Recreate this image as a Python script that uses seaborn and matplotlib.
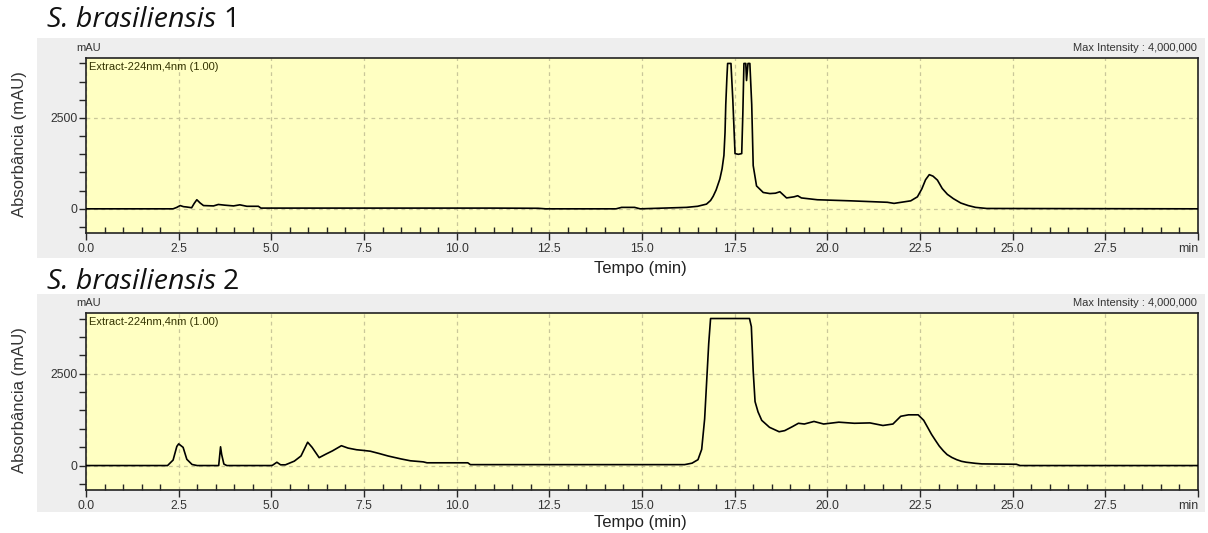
import matplotlib
matplotlib.use("Agg")
import matplotlib.pyplot as plt
from matplotlib.patches import Rectangle
from matplotlib.ticker import MultipleLocator, FixedLocator
import seaborn as sns
import pandas as pd

# ---------------- data ----------------
titles = ["S. brasiliensis", "S. brasiliensis"]
title_nums = ["1", "2"]

t1 = [0, 2.35, 2.45, 2.54, 2.63, 2.72, 2.85, 2.92, 2.99, 3.08,
      3.17, 3.44, 3.57, 3.75, 3.98, 4.15, 4.34, 4.65, 4.72, 5.0,
      7.0, 9.0, 11.0, 12.2, 12.4, 14.3, 14.45, 14.8, 14.95, 16.2,
      16.5, 16.74, 16.85, 16.92, 17.0, 17.1, 17.16, 17.21, 17.24, 17.26,
      17.29, 17.31, 17.4, 17.45, 17.51, 17.6, 17.69, 17.72, 17.75, 17.8,
      17.82, 17.86, 17.91, 17.96, 18.0, 18.09, 18.27, 18.45, 18.6, 18.72,
      18.9, 19.1, 19.2, 19.3, 19.73, 20.63, 21.62, 21.8, 22.25, 22.43,
      22.55, 22.65, 22.75, 22.85, 22.97, 23.1, 23.24, 23.4, 23.6, 23.8,
      24.0, 24.3, 30.0]
a1 = [0, 0, 40, 90, 60, 50, 30, 150, 250, 160,
      90, 80, 120, 100, 80, 110, 70, 70, 20, 20,
      20, 20, 20, 15, 0, 0, 40, 40, 0, 40,
      70, 130, 230, 345, 520, 820, 1100, 1470, 2100, 2870,
      3600, 4000, 4000, 3000, 1520, 1500, 1520, 2600, 4000, 4000,
      3530, 4000, 4000, 2870, 1190, 630, 450, 420, 430, 470,
      300, 330, 360, 300, 250, 220, 180, 150, 220, 330,
      550, 800, 940, 900, 790, 560, 400, 280, 160, 90,
      40, 10, 0]

t2 = [0, 2.2, 2.35, 2.45, 2.5, 2.62, 2.72, 2.86, 3.0, 3.58,
      3.63, 3.66, 3.72, 3.8, 5.02, 5.15, 5.25, 5.38, 5.62, 5.8,
      5.98, 6.1, 6.29, 6.47, 6.65, 6.89, 7.07, 7.3, 7.5, 7.67,
      7.9, 8.15, 8.5, 8.75, 9.1, 9.2, 10.3, 10.37, 16.15, 16.35,
      16.51, 16.61, 16.69, 16.75, 16.8, 16.85, 17.9, 17.95, 18.0, 18.05,
      18.13, 18.23, 18.44, 18.7, 18.85, 19.06, 19.22, 19.38, 19.64, 19.9,
      20.31, 20.73, 21.15, 21.5, 21.77, 21.98, 22.19, 22.45, 22.6, 22.7,
      22.81, 22.92, 23.02, 23.13, 23.23, 23.36, 23.49, 23.62, 23.75, 24.0,
      24.17, 25.1, 25.2, 30.0]
a2 = [0, 0, 150, 520, 590, 495, 170, 30, 0, 0,
      510, 300, 40, 0, 0, 90, 20, 20, 120, 260,
      635, 495, 215, 310, 400, 540, 475, 430, 410, 390,
      330, 260, 180, 130, 100, 75, 75, 25, 25, 65,
      160, 440, 1270, 2390, 3320, 4000, 4000, 3780, 2570, 1740,
      1460, 1230, 1040, 920, 950, 1060, 1150, 1130, 1200, 1130,
      1180, 1150, 1160, 1090, 1130, 1340, 1380, 1380, 1230, 1050,
      850, 680, 530, 400, 300, 220, 160, 115, 90, 60,
      45, 35, 0, 0]

x_ticks = [0, 2.5, 5, 7.5, 10, 12.5, 15, 17.5, 20, 22.5, 25, 27.5, 30]
x_tick_labels = ["0.0", "2.5", "5.0", "7.5", "10.0", "12.5", "15.0",
                 "17.5", "20.0", "22.5", "25.0", "27.5", "min"]
y_ticks = [0, 2500]
y_tick_labels = ["0", "2500"]

channel_label = "Extract-224nm,4nm (1.00)"
max_label = "Max Intensity : 4,000,000"
y_label = "Absorbância (mAU)"
x_label = "Tempo (min)"

# ---------------- layout ----------------
W, H = 1208, 533
sns.set_style("white")
plt.rcParams["font.family"] = ["Liberation Sans", "DejaVu Sans"]

fig = plt.figure(figsize=(W / 100, H / 100), dpi=100)
fig.patch.set_facecolor("white")

panels = [
    dict(t=t1, a=a1, grey=(37, 38, 1205, 258), ax=(86, 58, 1198, 233), title_y=20, tempo_y=268),
    dict(t=t2, a=a2, grey=(37, 294, 1205, 512), ax=(86, 313, 1198, 490), title_y=282, tempo_y=522),
]

YELLOW = "#FFFFC2"
GREY = "#EEEEEE"
GRIDC = "#C9C79A"

renderer = fig.canvas.get_renderer()

for i, p in enumerate(panels):
    gx0, gy0, gx1, gy1 = p["grey"]
    fig.patches.append(Rectangle((gx0 / W, 1 - gy1 / H), (gx1 - gx0) / W, (gy1 - gy0) / H,
                                 transform=fig.transFigure, facecolor=GREY, edgecolor="none",
                                 zorder=-10))
    x0, y0, x1, y1 = p["ax"]
    ax = fig.add_axes([x0 / W, 1 - y1 / H, (x1 - x0) / W, (y1 - y0) / H])
    ax.set_zorder(1)
    ax.set_facecolor(YELLOW)
    df = pd.DataFrame({"Tempo": p["t"], "Abs": p["a"]})
    sns.lineplot(data=df, x="Tempo", y="Abs", ax=ax, color="black", linewidth=1.2,
                 estimator=None, sort=False, zorder=3)
    ax.set_xlim(0, 30)
    ax.set_ylim(-665, 4150)
    ax.set_xlabel("")
    ax.set_ylabel("")
    ax.xaxis.set_major_locator(FixedLocator(x_ticks))
    ax.set_xticklabels(x_tick_labels)
    ax.xaxis.set_minor_locator(MultipleLocator(0.5))
    ax.yaxis.set_major_locator(FixedLocator(y_ticks))
    ax.set_yticklabels(y_tick_labels)
    ax.yaxis.set_minor_locator(FixedLocator([-500, 500, 1000, 1500, 2000, 3000, 3500, 4000]))
    ax.tick_params(axis="x", which="major", direction="out", length=5, width=1,
                   labelsize=8.8, labelcolor="#333333", pad=2)
    ax.tick_params(axis="x", which="minor", direction="in", length=4, width=1)
    ax.tick_params(axis="y", which="both", direction="out", length=5, width=1,
                   labelsize=8.8, labelcolor="#333333", pad=1)
    ax.tick_params(bottom=True, left=True, which="both")
    ax.get_xticklabels()[-1].set_horizontalalignment("right")
    ax.grid(True, axis="x", which="major", linestyle=(0, (3, 3)), color=GRIDC, linewidth=0.9)
    ax.grid(True, axis="y", which="major", linestyle=(0, (3, 3)), color=GRIDC, linewidth=0.9)
    for s in ax.spines.values():
        s.set_color("#222222")
        s.set_linewidth(1.2)
        s.set_visible(True)

    fig.text(76 / W, 1 - (y0 - 10) / H, "mAU", fontsize=8, color="#333333", va="center", ha="left")
    fig.text((x0 + 3) / W, 1 - (y0 + 9) / H, channel_label, fontsize=8, color="#333300",
             va="center", ha="left", zorder=5)
    fig.text(1197 / W, 1 - (y0 - 10) / H, max_label, fontsize=8, color="#333333",
             va="center", ha="right")
    fig.text(20 / W, 1 - ((y0 + y1) / 2 - 1) / H, y_label, fontsize=12, color="#333333",
             rotation=90, va="center", ha="center")
    fig.text(640 / W, 1 - p["tempo_y"] / H, x_label, fontsize=12, color="#222222",
             va="center", ha="center")

    tt = fig.text(47 / W, 1 - p["title_y"] / H, titles[i], fontsize=20.5, family="Open Sans",
                  style="italic", color="#111111", va="center", ha="left")
    bb = tt.get_window_extent(renderer=renderer)
    fig.text((bb.x1 + 7) / W, 1 - p["title_y"] / H, title_nums[i], fontsize=20.5,
             family="Open Sans", color="#111111", va="center", ha="left")

fig.savefig("out.png", dpi=100)
